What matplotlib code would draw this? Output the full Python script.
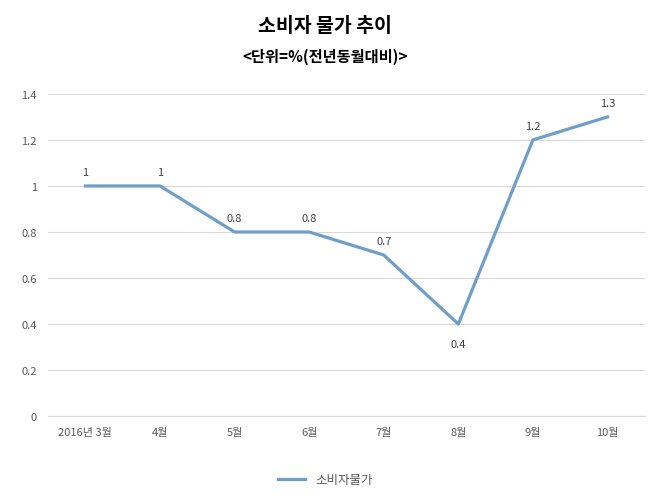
import matplotlib
matplotlib.use("Agg")
import matplotlib.pyplot as plt

plt.rcParams['font.family'] = ['Noto Sans CJK KR', 'DejaVu Sans']

# data
months = ['2016년 3월', '4월', '5월', '6월', '7월', '8월', '9월', '10월']
cpi = [1, 1, 0.8, 0.8, 0.7, 0.4, 1.2, 1.3]
labels = ['1', '1', '0.8', '0.8', '0.7', '0.4', '1.2', '1.3']

fig = plt.figure(figsize=(6.5, 5.02), dpi=100)
ax = fig.add_axes([0.074, 0.169, 0.918, 0.642])

x = list(range(len(months)))
line, = ax.plot(x, cpi, color='#6f9fc8', linewidth=2.3, label='소비자물가')

for i, (v, t) in enumerate(zip(cpi, labels)):
    dy = -14 if v == 0.4 else 10
    ax.annotate(t, (i, v), xytext=(0, dy), textcoords='offset points',
                ha='center', va='center', fontsize=8, color='#404040')

ax.set_xlim(-0.5, 7.5)
ax.set_ylim(0, 1.4)
ax.set_yticks([0, 0.2, 0.4, 0.6, 0.8, 1.0, 1.2, 1.4])
ax.set_yticklabels(['0', '0.2', '0.4', '0.6', '0.8', '1', '1.2', '1.4'])
ax.set_xticks(x)
ax.set_xticklabels(months)
ax.tick_params(length=0, labelsize=8, colors='#595959', pad=8)
ax.grid(axis='y', color='#d9d9d9', linewidth=0.8)
ax.set_axisbelow(True)
for s in ['top', 'right', 'left']:
    ax.spines[s].set_visible(False)
ax.spines['bottom'].set_color('#d9d9d9')

fig.text(0.5, 0.948, '소비자 물가 추이', ha='center', va='center',
         fontsize=14, fontweight='bold', color='#000000')
fig.text(0.5, 0.886, '<단위=%(전년동월대비)>', ha='center', va='center',
         fontsize=11, fontweight='bold', color='#000000')

fig.legend(handles=[line], loc='center', bbox_to_anchor=(0.5, 0.042),
           frameon=False, fontsize=9, labelcolor='#595959', handlelength=2.2)

fig.savefig('out.png', dpi=100)
